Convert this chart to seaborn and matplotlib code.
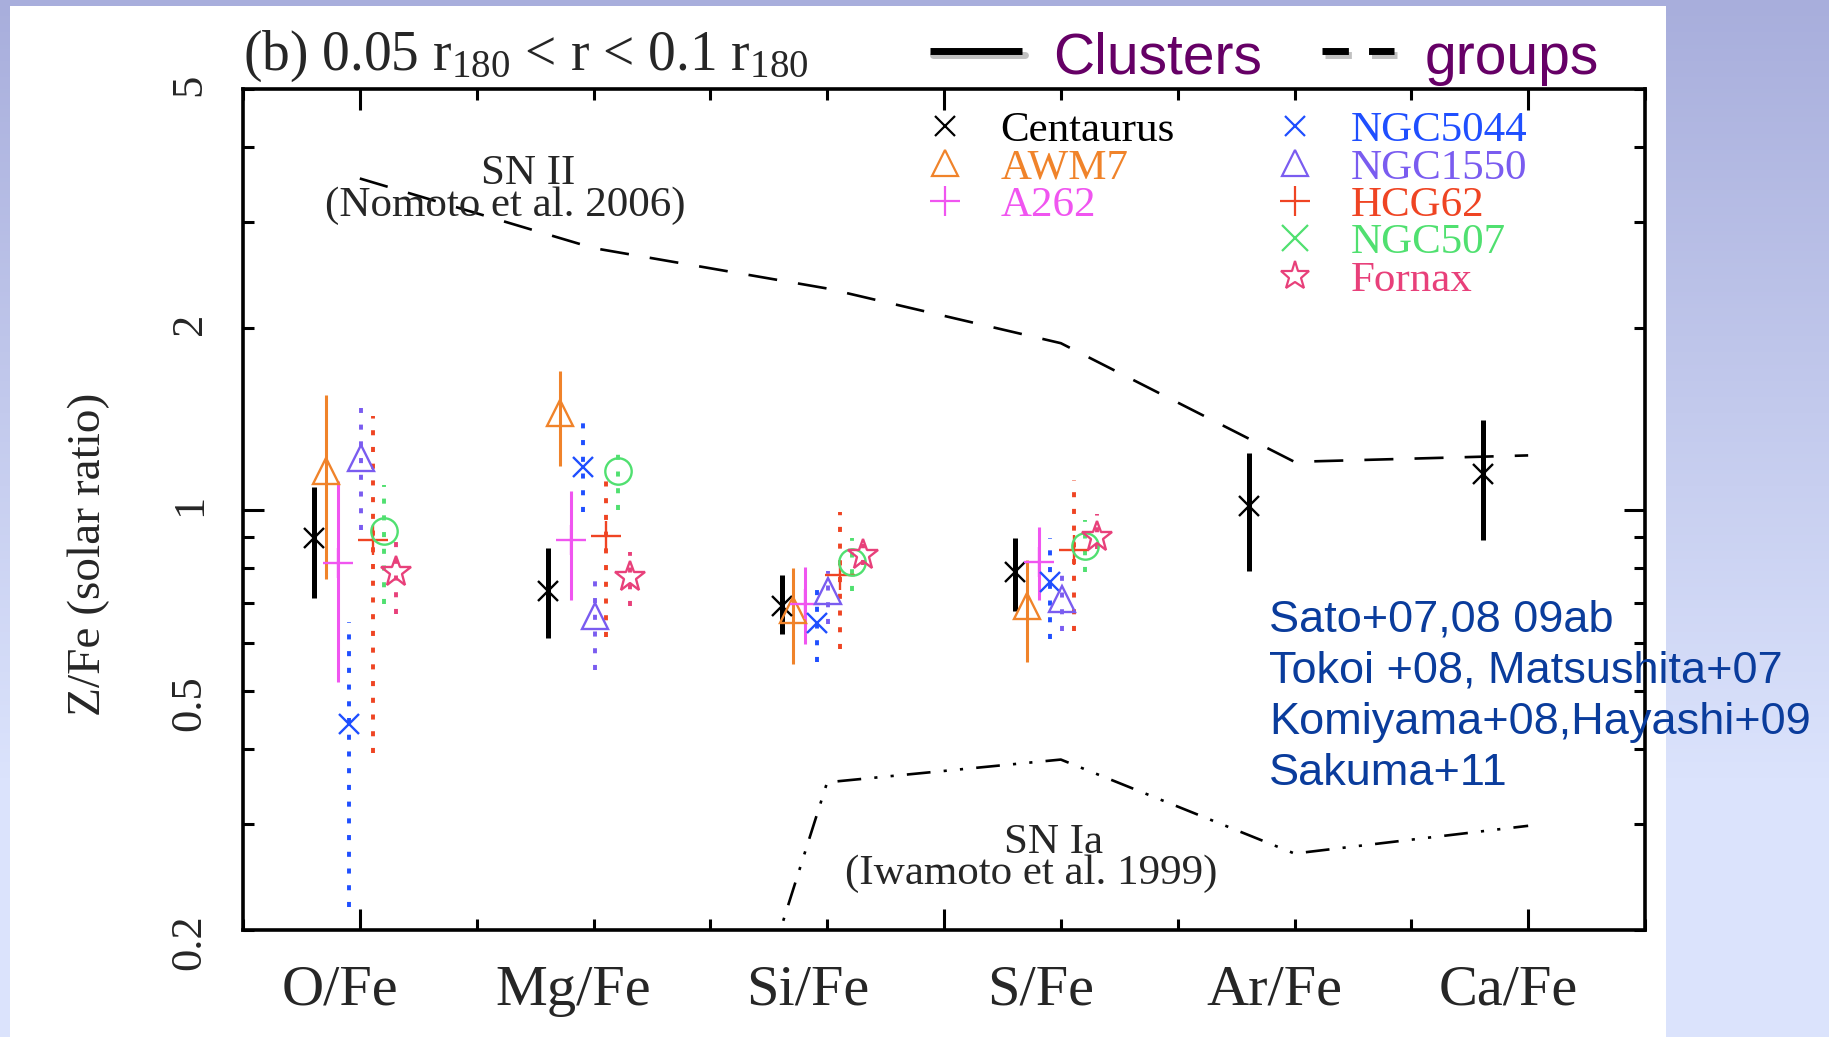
import numpy as np
import pandas as pd
import matplotlib
matplotlib.use("Agg")
import matplotlib.pyplot as plt
from matplotlib.lines import Line2D
from matplotlib.patches import Rectangle
from matplotlib.ticker import FixedLocator, FuncFormatter, NullFormatter
import seaborn as sns

# ---------------------------------------------------------------- data
elements = ["O/Fe", "Mg/Fe", "Si/Fe", "S/Fe", "Ar/Fe", "Ca/Fe"]

# abundance ratios (solar units): best fit, lower and upper error bounds
centaurus_val = [0.895, 0.733, 0.692, 0.787, 1.015, 1.147]
centaurus_lo = [0.714, 0.612, 0.621, 0.679, 0.790, 0.890]
centaurus_hi = [1.088, 0.864, 0.777, 0.897, 1.240, 1.406]

awm7_val = [1.16, 1.445, 0.680, 0.690]
awm7_lo = [0.765, 1.183, 0.554, 0.557]
awm7_hi = [1.55, 1.70, 0.800, 0.823]

a262_val = [0.814, 0.890, 0.697, 0.818]
a262_lo = [0.516, 0.706, 0.598, 0.708]
a262_hi = [1.114, 1.073, 0.802, 0.935]

ngc5044_val = [0.440, 1.176, 0.647, 0.757]
ngc5044_lo = [0.218, 0.990, 0.557, 0.610]
ngc5044_hi = [0.650, 1.390, 0.767, 0.897]

ngc1550_val = [1.22, 0.664, 0.733, 0.710]
ngc1550_lo = [0.923, 0.541, 0.646, 0.629]
ngc1550_hi = [1.476, 0.760, 0.790, 0.777]

hcg62_val = [0.890, 0.905, 0.779, 0.857]
hcg62_lo = [0.394, 0.613, 0.587, 0.629]
hcg62_hi = [1.430, 1.117, 0.990, 1.120]

ngc507_val = [0.920, 1.158, 0.818, 0.868]
ngc507_lo = [0.697, 1.000, 0.733, 0.787]
ngc507_hi = [1.100, 1.253, 0.895, 0.959]

fornax_val = [0.787, 0.772, 0.841, 0.900]
fornax_lo = [0.671, 0.690, 0.810, 0.860]
fornax_hi = [0.888, 0.850, 0.875, 0.984]

# supernova yield models
sn2_ratio = [3.55, 2.72, 2.33, 1.89, 1.20, 1.23]      # Nomoto et al. 2006
sn1a_ratio = [0.035, 0.021, 0.352, 0.384, 0.268, 0.298]  # Iwamoto et al. 1999

y_tick_values = [0.2, 0.5, 1, 2, 5]
y_tick_labels = ["0.2", "0.5", "1", "2", "5"]

cluster_names = ["Centaurus", "AWM7", "A262"]
group_names = ["NGC5044", "NGC1550", "HCG62", "NGC507", "Fornax"]

# ---------------------------------------------------------------- styles
objects = [
    # name, values, lo, hi, colour, marker, legend marker, marker size, bar width, dotted
    ("Centaurus", centaurus_val, centaurus_lo, centaurus_hi, "#000000", "x", "x", 15, 3.6, False),
    ("AWM7", awm7_val, awm7_lo, awm7_hi, "#f0832a", "^", "^", 19, 2.2, False),
    ("A262", a262_val, a262_lo, a262_hi, "#f055f0", "+", "+", 22, 2.2, False),
    ("NGC5044", ngc5044_val, ngc5044_lo, ngc5044_hi, "#1f4fff", "x", "x", 15, 2.8, True),
    ("NGC1550", ngc1550_val, ngc1550_lo, ngc1550_hi, "#7a5cf0", "^", "^", 19, 2.8, True),
    ("HCG62", hcg62_val, hcg62_lo, hcg62_hi, "#ef4423", "+", "+", 22, 2.8, True),
    ("NGC507", ngc507_val, ngc507_lo, ngc507_hi, "#50e070", "o", "x", 19, 2.8, True),
    ("Fornax", fornax_val, fornax_lo, fornax_hi, "#e8407a", "*", "*", 23, 2.8, True),
]
offsets = np.arange(len(objects)) * 0.05 - 0.195

W, H, DPI = 1829, 1037, 100
sns.set_theme(style="ticks")
plt.rcParams["font.family"] = ["Liberation Serif", "DejaVu Serif"]
plt.rcParams["mathtext.fontset"] = "custom"
plt.rcParams["mathtext.rm"] = "Liberation Serif"
plt.rcParams["mathtext.it"] = "Liberation Serif:italic"

fig = plt.figure(figsize=(W / DPI, H / DPI), dpi=DPI)

# slide background: soft lavender gradient with a white panel
bg = fig.add_axes([0, 0, 1, 1], zorder=-10)
t = np.clip(np.linspace(0, 1, 256) / 0.75, 0, 1)[:, None, None]
top_c = np.array([168, 174, 220]) / 255
bot_c = np.array([219, 227, 252]) / 255
grad = top_c * (1 - t) + bot_c * t
bg.imshow(grad, aspect="auto", extent=[0, 1, 0, 1], origin="upper")
bg.add_patch(Rectangle((10 / W, 0), (1666 - 10) / W, 1 - 6 / H,
                       facecolor="white", edgecolor="none", transform=bg.transAxes))
bg.set_xlim(0, 1)
bg.set_ylim(0, 1)
bg.axis("off")

ax = fig.add_axes([243 / W, 1 - 930 / H, (1645 - 243) / W, (930 - 89) / H])
ax.set_facecolor("white")
ax.set_yscale("log")

pos = np.arange(1, len(elements) + 1)

# model curves
models = pd.DataFrame({"pos": pos, "SN II": sn2_ratio, "SN Ia": sn1a_ratio})
sns.lineplot(data=models, x="pos", y="SN II", ax=ax, color="black",
             linewidth=1.9, linestyle=(0, (11, 8)), zorder=2)
sns.lineplot(data=models, x="pos", y="SN Ia", ax=ax, color="black",
             linewidth=1.9, linestyle=(0, (9, 5, 1.2, 5, 1.2, 5)), zorder=2)

# measurements
for (name, val, lo, hi, col, mk, lmk, ms, bw, dotted), off in zip(objects, offsets):
    val, lo, hi = map(np.asarray, (val, lo, hi))
    x = pos[: len(val)] + off
    eb = ax.errorbar(x, val, yerr=[val - lo, hi - val], fmt="none",
                     ecolor=col, elinewidth=bw, capsize=0, zorder=3)
    if dotted:
        eb[2][0].set_linestyle((0, (1.3, 3.0)))
    ax.plot(x, val, linestyle="none", marker=mk, ms=ms, mec=col, mfc="none",
            mew=1.7, zorder=4)

ax.set_xlim(0.5, 6.5)
ax.set_ylim(0.2, 5)

# x ticks: long marks at 1, 3.5, 6 and short ones every half step
ax.xaxis.set_major_locator(FixedLocator([1, 3.5, 6]))
ax.xaxis.set_minor_locator(FixedLocator(np.arange(0.5, 6.51, 0.5)))
ax.xaxis.set_major_formatter(NullFormatter())
ax.xaxis.set_minor_formatter(NullFormatter())

# element names sit slightly left of their tick marks
sec = ax.secondary_xaxis("bottom")
sec.set_xticks(pos - 0.085, elements)
sec.tick_params(length=0, pad=25, labelsize=42)
for s in sec.spines.values():
    s.set_visible(False)

# y ticks: long mark at 1, short marks elsewhere
label_map = {round(v, 3): lab for v, lab in zip(y_tick_values, y_tick_labels)}
ax.yaxis.set_major_locator(FixedLocator([1]))
ax.yaxis.set_major_formatter(FuncFormatter(lambda v, p: label_map.get(round(v, 3), "")))
ax.yaxis.set_minor_locator(FixedLocator([0.2, 0.3, 0.4, 0.5, 0.6, 0.7, 0.8, 0.9, 2, 3, 4, 5]))
ax.yaxis.set_minor_formatter(FuncFormatter(lambda v, p: label_map.get(round(v, 3), "")))

ax.tick_params(which="both", direction="in", top=True, right=True,
               width=2.2, color="black")
ax.tick_params(which="major", length=15)
ax.tick_params(which="minor", length=8)
ax.tick_params(axis="y", which="both", labelrotation=90, labelsize=32, pad=24)
for s in ax.spines.values():
    s.set_linewidth(2.6)
    s.set_color("black")

ax.set_xlabel("")
ax.set_ylabel("Z/Fe (solar ratio)", fontsize=34)
ax.yaxis.set_label_coords(-0.095, 0.447)

# model labels
ax.text(1.72, 3.62, "SN II", ha="center", va="center", fontsize=31)
ax.text(1.624, 3.2, "(Nomoto et al. 2006)", ha="center", va="center", fontsize=31)
ax.text(3.967, 0.279, "SN Ia", ha="center", va="center", fontsize=31)
ax.text(3.873, 0.248, "(Iwamoto et al. 1999)", ha="center", va="center", fontsize=31)

# object legends
def handles_for(names):
    hs, cs = [], []
    for (name, val, lo, hi, col, mk, lmk, ms, bw, dotted) in objects:
        if name in names:
            hs.append(Line2D([], [], linestyle="none", marker=lmk, ms=ms * 0.95,
                             mec=col, mfc="none", mew=1.6, color=col))
            cs.append(col)
    return hs, cs

h1, c1 = handles_for(cluster_names)
leg1 = ax.legend(h1, cluster_names, loc="upper left", bbox_to_anchor=(930 / W, 1 - 111 / H),
                 bbox_transform=fig.transFigure, frameon=False, fontsize=31,
                 handlelength=0.7, handletextpad=0.93, labelspacing=-0.04,
                 borderpad=0, borderaxespad=0, labelcolor=c1)
ax.add_artist(leg1)
h2, c2 = handles_for(group_names)
ax.legend(h2, group_names, loc="upper left", bbox_to_anchor=(1280 / W, 1 - 111 / H),
          bbox_transform=fig.transFigure, frameon=False, fontsize=31,
          handlelength=0.7, handletextpad=0.95, labelspacing=-0.04,
          borderpad=0, borderaxespad=0, labelcolor=c2)

# panel title
fig.text(243 / W, 1 - 70 / H, r"(b) 0.05 r$_{\mathrm{180}}$ < r < 0.1 r$_{\mathrm{180}}$",
         fontsize=40, va="baseline", ha="left")

# line-style key
purple = "#660066"
fig.add_artist(Line2D([933 / W, 1025 / W], [1 - 55 / H, 1 - 55 / H], color="#999999",
                      lw=5, alpha=0.6, transform=fig.transFigure))
fig.add_artist(Line2D([930 / W, 1022 / W], [1 - 51 / H, 1 - 51 / H], color="black",
                      lw=5, solid_capstyle="butt", transform=fig.transFigure))
fig.add_artist(Line2D([1325 / W, 1397 / W], [1 - 55 / H, 1 - 55 / H], color="#999999",
                      lw=5, alpha=0.6, linestyle=(0, (3.8, 2.9)), transform=fig.transFigure))
fig.add_artist(Line2D([1322 / W, 1394 / W], [1 - 51 / H, 1 - 51 / H], color="black",
                      lw=5, linestyle=(0, (3.8, 2.9)), transform=fig.transFigure))
fig.text(1053 / W, 1 - 73.5 / H, "Clusters", fontsize=41, color=purple,
         family="Liberation Sans", va="baseline", ha="left")
fig.text(1425 / W, 1 - 73.5 / H, "groups", fontsize=41, color=purple,
         family="Liberation Sans", va="baseline", ha="left")

# references
fig.text(1269 / W, 1 - 697 / H,
         "Sato+07,08 09ab\nTokoi +08, Matsushita+07\nKomiyama+08,Hayashi+09\nSakuma+11",
         fontsize=32.5, color="#0a3c9c", family="Liberation Sans",
         va="center", ha="left", linespacing=1.32, zorder=5)

fig.savefig("out.png", dpi=DPI)
